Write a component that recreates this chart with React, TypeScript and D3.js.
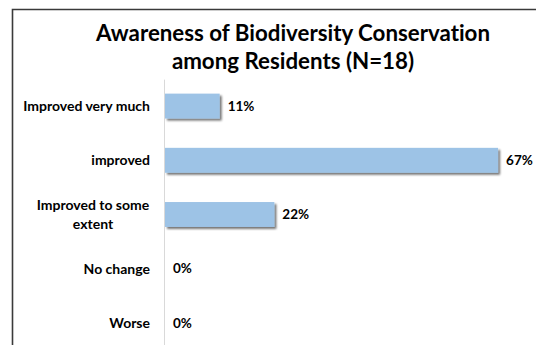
import React from "react";
import * as d3 from "d3";

const categories = ["Improved very much", "improved", "Improved to some extent", "No change", "Worse"];
const categoryLines: string[][] = [["Improved very much"], ["improved"], ["Improved to some", "extent"], ["No change"], ["Worse"]];
const values = [0.11, 0.67, 0.22, 0, 0];
const valueLabels = ["11%", "67%", "22%", "0%", "0%"];
const titleLines = ["Awareness of Biodiversity Conservation", "among Residents (N=18)"];

const W = 536;
const H = 345;
const FONT = "Lato, 'Open Sans', sans-serif";

export default function App() {
  const x = d3.scaleLinear().domain([0, 0.7]).range([165, 513]);
  const y = d3.scaleBand<string>().domain(categories).range([79, 350]).paddingInner(0.54).paddingOuter(0.27);
  const bw = y.bandwidth();

  return (
    <svg
      width={W}
      height={H}
      style={{ position: "absolute", left: 0, top: 0, background: "#fff", fontVariantLigatures: "none", fontFeatureSettings: '"liga" 0, "clig" 0' }}
    >
      <defs>
        <filter id="barShadow" x="-5%" y="-20%" width="115%" height="160%">
          <feGaussianBlur in="SourceAlpha" stdDeviation="1.2" />
          <feOffset dx="1.5" dy="2" result="off" />
          <feComponentTransfer><feFuncA type="linear" slope="0.55" /></feComponentTransfer>
          <feMerge><feMergeNode /><feMergeNode in="SourceGraphic" /></feMerge>
        </filter>
      </defs>
      {/* chart frame */}
      <path d={`M12.5,${H} V9.5 H${W}`} fill="none" stroke="#3a3a3a" strokeWidth={1.6} />

      {titleLines.map((t, i) => (
        <text key={t} x={293} y={41 + i * 28} textAnchor="middle" fontFamily={FONT} fontWeight={700} fontSize={22.3} fill="#000">
          {t}
        </text>
      ))}

      {/* category axis line */}
      <line x1={x(0) - 0.5} x2={x(0) - 0.5} y1={y(categories[0])! - 14} y2={H} stroke="#d9d9d9" strokeWidth={1} />

      {categories.map((c, i) => {
        const y0 = y(c)!;
        const cy = y0 + bw / 2;
        const lines = categoryLines[i];
        const blockRight = 150;
        return (
          <g key={c}>
            {values[i] > 0 && (
              <rect x={x(0)} y={y0} width={x(values[i]) - x(0)} height={bw} fill="#9dc3e6" filter="url(#barShadow)" />
            )}
            <text x={x(values[i]) + 8} y={cy} dy="0.35em" fontFamily={FONT} fontWeight={700} fontSize={13.5} fill="#000">
              {valueLabels[i]}
            </text>
            {lines.length === 1 ? (
              <text x={blockRight} y={cy} dy="0.35em" textAnchor="end" fontFamily={FONT} fontWeight={700} fontSize={14} fill="#000">
                {lines[0]}
              </text>
            ) : (
              lines.map((l, j) => (
                <text key={l} x={93} y={cy + (j - (lines.length - 1) / 2) * 19} dy="0.35em" textAnchor="middle" fontFamily={FONT} fontWeight={700} fontSize={14} fill="#000">
                  {l}
                </text>
              ))
            )}
          </g>
        );
      })}
    </svg>
  );
}
